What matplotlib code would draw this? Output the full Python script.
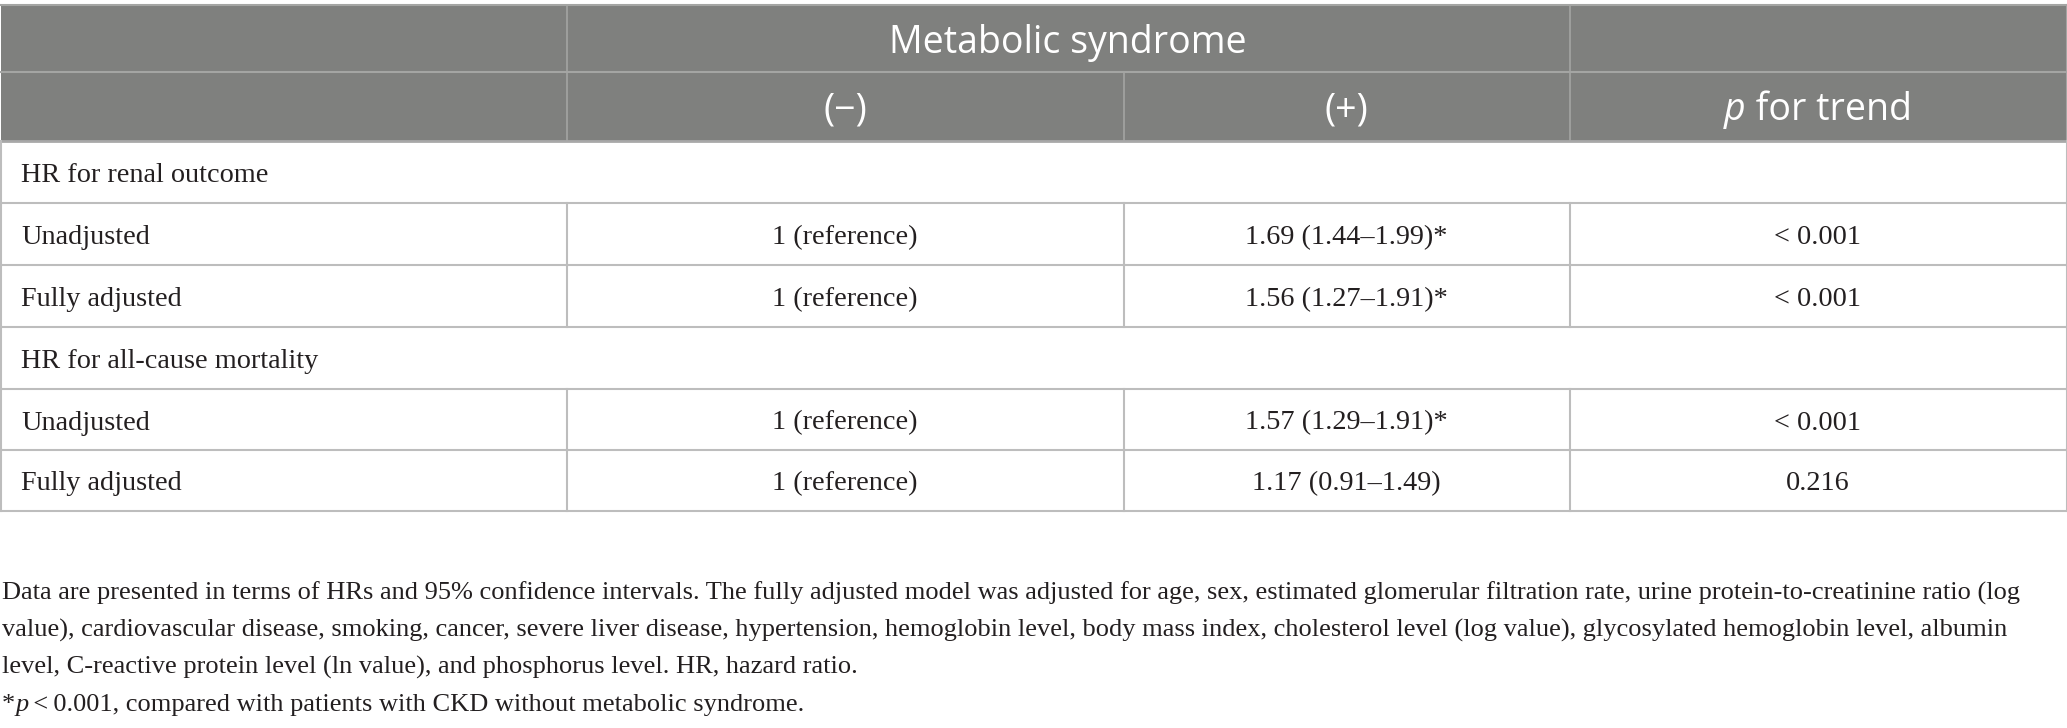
import matplotlib
matplotlib.use('Agg')
from matplotlib import pyplot as plt

# table content
header_top = 'Metabolic syndrome'
header_cols = ['(\u2212)', '(+)']
header_trend = [('p', 'italic'), (' for trend', 'normal')]

row_labels = ['HR for renal outcome', 'Unadjusted', 'Fully adjusted',
              'HR for all-cause mortality', 'Unadjusted', 'Fully adjusted']
is_group = [True, False, False, True, False, False]
ms_negative = ['', '1 (reference)', '1 (reference)', '', '1 (reference)', '1 (reference)']
ms_positive = ['', '1.69 (1.44\u20131.99)*', '1.56 (1.27\u20131.91)*',
               '', '1.57 (1.29\u20131.91)*', '1.17 (0.91\u20131.49)']
p_trend = ['', '< 0.001', '< 0.001', '', '< 0.001', '0.216']

caption_lines = [
    [('Data are presented in terms of HRs and 95% confidence intervals. The fully adjusted model was adjusted for age, sex, '
      'estimated glomerular filtration rate, urine protein-to-creatinine ratio (log', 'normal')],
    [('value), cardiovascular disease, smoking, cancer, severe liver disease, hypertension, hemoglobin level, body mass index, '
      'cholesterol level (log value), glycosylated hemoglobin level, albumin', 'normal')],
    [('level, C-reactive protein level (ln value), and phosphorus level. HR, hazard ratio.', 'normal')],
    [('*', 'normal'), ('p', 'italic'), ('\u2009<\u20090.001, compared with patients with CKD without metabolic syndrome.', 'normal')],
]

# layout (pixels)
W, H = 2067, 728
col_edges = [0.5, 566.5, 1123.5, 1569.5, 2066.5]
row_edges = [4.5, 72, 141, 203, 265, 327, 389, 450, 511]
header_baselines = [53, 120]
caption_baselines = [600, 637, 674, 711]

header_bg = '#7f807e'
header_line = '#a4a5a3'
grid_color = '#bdbdbd'
text_color = '#231f20'
serif = 'Liberation Serif'
sans = 'Open Sans'

fig = plt.figure(figsize=(W / 100, H / 100), dpi=100)
ax = fig.add_axes([0, 0, 1, 1])
ax.set_xlim(0, W)
ax.set_ylim(H, 0)
ax.axis('off')
renderer = fig.canvas.get_renderer()


def draw_runs(x, y, runs, ha='left', va='baseline', **kw):
    # draw pieces of text with different styles next to each other
    texts = [ax.text(0, y, s, fontstyle=st, va=va, ha='left', **kw) for s, st in runs]
    widths = [t.get_window_extent(renderer).width for t in texts]
    total = sum(widths)
    start = x - total / 2 if ha == 'center' else x
    for t, w in zip(texts, widths):
        t.set_x(start)
        start += w


# header background
ax.fill_between([col_edges[0], col_edges[-1]], row_edges[0], row_edges[2], color=header_bg, lw=0)
ax.plot([col_edges[0], col_edges[-1]], [row_edges[1]] * 2, color=header_line, lw=1.5)
ax.plot([col_edges[0], col_edges[-1]], [row_edges[0]] * 2, color=header_line, lw=1.5)
for x in (col_edges[1], col_edges[3]):
    ax.plot([x, x], [row_edges[0], row_edges[2]], color=header_line, lw=1.2)
ax.plot([col_edges[2]] * 2, [row_edges[1], row_edges[2]], color=header_line, lw=1.2)
ax.plot([col_edges[-1]] * 2, [row_edges[0], row_edges[2]], color=header_line, lw=1.5)

header_size = 27
ax.text((col_edges[1] + col_edges[3]) / 2, header_baselines[0], header_top,
        ha='center', va='baseline', color='white', family=sans, fontsize=header_size)
for i, lab in enumerate(header_cols):
    ax.text((col_edges[i + 1] + col_edges[i + 2]) / 2, header_baselines[1], lab,
            ha='center', va='baseline', color='white', family=sans, fontsize=header_size)
draw_runs((col_edges[3] + col_edges[4]) / 2, header_baselines[1], header_trend,
          ha='center', color='white', family=sans, fontsize=header_size)

# body
body_size = 20.3
ax.plot([col_edges[0], col_edges[-1]], [row_edges[2]] * 2, color='#a8a8a8', lw=2)
for i, label in enumerate(row_labels):
    top, bottom = row_edges[i + 2], row_edges[i + 3]
    base = bottom - 20.5
    ax.plot([col_edges[0], col_edges[-1]], [bottom] * 2, color=grid_color, lw=1.5)
    for x in (col_edges[0], col_edges[-1]):
        ax.plot([x, x], [top, bottom], color=grid_color, lw=1.5)
    if not is_group[i]:
        for x in col_edges[1:-1]:
            ax.plot([x, x], [top, bottom], color=grid_color, lw=1.5)
    ax.text(21, base, label, ha='left', va='baseline', color=text_color, family=serif, fontsize=body_size)
    for j, val in enumerate([ms_negative[i], ms_positive[i], p_trend[i]]):
        if val:
            ax.text((col_edges[j + 1] + col_edges[j + 2]) / 2, base, val, ha='center', va='baseline',
                    color=text_color, family=serif, fontsize=body_size)

# footnote
for base, runs in zip(caption_baselines, caption_lines):
    draw_runs(2, base, runs, ha='left', va='baseline', color=text_color, family=serif, fontsize=19.0)

fig.savefig('out.png', dpi=100)
